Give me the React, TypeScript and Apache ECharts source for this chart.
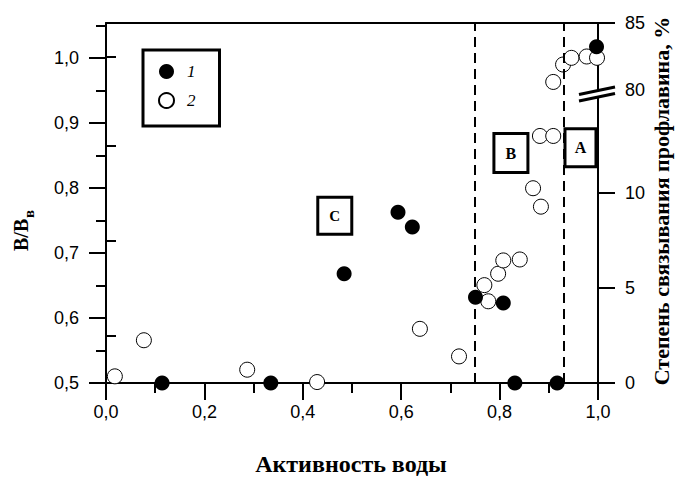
import React, { useEffect, useRef } from "react";
import * as echarts from "echarts";

// ---- data ----
const seriesNames = ["1", "2"];
// series 1 (filled): B/B_в, left axis
const filledX = [0.114, 0.335, 0.484, 0.5935, 0.6226, 0.751, 0.8075, 0.831, 0.917, 0.997];
const filledY = [0.5, 0.5, 0.668, 0.7626, 0.74, 0.632, 0.623, 0.5, 0.5, 1.0174];
// series 2 (open): binding degree, %, right axis (broken)
const openX = [0.018, 0.077, 0.287, 0.429, 0.638, 0.7175, 0.769, 0.777, 0.797, 0.8075, 0.841, 0.868, 0.884, 0.882, 0.909, 0.909, 0.929, 0.946, 0.977, 0.998];
const openPct = [0.35, 2.25, 0.7, 0.05, 2.85, 1.4, 5.15, 4.3, 5.75, 6.45, 6.5, 10.25, 9.28, 13.0, 13.0, 80.6, 81.9, 82.4, 82.5, 82.4];
// ticks
const xMajorInterval = 0.2;
const leftMajor = [0.5, 0.6, 0.7, 0.8, 0.9, 1.0];
const leftMinor = [0.55, 0.65, 0.75, 0.85, 0.95, 1.05];
const rightMajor = [0, 5, 10, 80, 85];
const rightMinor = [2.5, 7.5, 12.5, 82.5];
// region boundaries (dashed lines)
const boundaries = [0.751, 0.929];
const regionNames = ["C", "B", "A"];

// ---- broken right axis mapping ----
const BREAK_80 = 15.42;
const UPPER_SCALE = 0.705;
const disp = (v: number) => (v < 40 ? v : BREAK_80 + (v - 80) * UPPER_SCALE);
const undisp = (d: number) => (d < 14 ? d : 80 + (d - BREAK_80) / UPPER_SCALE);

const comma = (v: number) => v.toFixed(1).replace(".", ",");

export default function App() {
  const ref = useRef<HTMLDivElement>(null);
  useEffect(() => {
    if (!ref.current) return;
    const chart = echarts.init(ref.current, undefined, { renderer: "svg" });
    const black = "#000";
    const sans = "Liberation Sans";
    const serif = "Liberation Serif";
    const leftMax = 1.054;
    const rightMax = disp(85);

    const option: any = {
      animation: false,
      backgroundColor: "#fff",
      grid: { left: 106, right: 78, top: 23, bottom: 94, containLabel: false },
      legend: {
        data: seriesNames,
        orient: "vertical",
        left: 143,
        top: 50,
        itemWidth: 15,
        itemHeight: 15,
        itemGap: 12,
        padding: [13, 24, 17, 15],
        borderColor: black,
        borderWidth: 3,
        backgroundColor: "#fff",
        selectedMode: false,
        textStyle: { fontFamily: serif, fontStyle: "italic", fontSize: 17, color: black, padding: [0, 0, 0, 8] },
      },
      xAxis: [
        {
          type: "value",
          min: 0,
          max: 1,
          interval: xMajorInterval,
          position: "bottom",
          axisLine: { show: true, onZero: false, lineStyle: { color: black, width: 2 } },
          axisTick: { show: true, length: 17, lineStyle: { color: black, width: 2 } },
          minorTick: { show: true, splitNumber: 2, length: 10, lineStyle: { color: black, width: 2 } },
          splitLine: { show: false },
          minorSplitLine: { show: false },
          axisLabel: { formatter: (v: number) => comma(v), fontFamily: sans, fontSize: 18, color: black, margin: 20 },
        },
        {
          type: "value",
          min: 0,
          max: 1,
          position: "top",
          axisLine: { show: true, onZero: false, lineStyle: { color: black, width: 2 } },
          axisTick: { show: false },
          axisLabel: { show: false },
          splitLine: { show: false },
        },
      ],
      yAxis: [
        {
          type: "value",
          min: 0.5,
          max: leftMax,
          position: "left",
          axisLine: { show: true, onZero: false, lineStyle: { color: black, width: 2 } },
          axisTick: { show: true, customValues: leftMajor, length: 17, lineStyle: { color: black, width: 2 } },
          axisLabel: { customValues: leftMajor, formatter: (v: number) => comma(v), fontFamily: sans, fontSize: 18, color: black, margin: 27 },
          splitLine: { show: false },
        },
        {
          type: "value",
          min: 0.5,
          max: leftMax,
          position: "left",
          axisLine: { show: false },
          axisTick: { show: true, customValues: leftMinor, length: 10, lineStyle: { color: black, width: 2 } },
          axisLabel: { show: false },
          splitLine: { show: false },
        },
        {
          type: "value",
          min: 0,
          max: rightMax,
          position: "right",
          axisLine: { show: true, onZero: false, lineStyle: { color: black, width: 2 } },
          axisTick: { show: true, customValues: rightMajor.map(disp), length: 17, lineStyle: { color: black, width: 2 } },
          axisLabel: {
            customValues: rightMajor.map(disp),
            formatter: (v: number) => String(Math.round(undisp(v))),
            fontFamily: sans,
            fontSize: 18,
            color: black,
            margin: 27,
          },
          splitLine: { show: false },
        },
        {
          type: "value",
          min: 0,
          max: rightMax,
          position: "right",
          axisLine: { show: false },
          axisTick: { show: true, customValues: rightMinor.map(disp), length: 10, lineStyle: { color: black, width: 2 } },
          axisLabel: { show: false },
          splitLine: { show: false },
        },
      ],
      series: [
        {
          name: seriesNames[1],
          type: "scatter",
          xAxisIndex: 0,
          yAxisIndex: 2,
          symbol: "circle",
          symbolSize: 15,
          z: 3,
          itemStyle: { color: "#fff", borderColor: black, borderWidth: 1, opacity: 1 },
          data: openX.map((x, i) => [x, disp(openPct[i])]),
        },
        {
          name: seriesNames[0],
          type: "scatter",
          xAxisIndex: 0,
          yAxisIndex: 0,
          symbol: "circle",
          symbolSize: 15,
          z: 4,
          itemStyle: { color: black, opacity: 1 },
          data: filledX.map((x, i) => [x, filledY[i]]),
          markLine: {
            silent: true,
            symbol: ["none", "none"],
            label: { show: false },
            lineStyle: { color: black, width: 2, type: [10, 6] },
            data: boundaries.map((b) => ({ xAxis: b })),
          },
        },
      ],
    };
    chart.setOption(option);

    // annotations positioned through the axes
    const boxAnchors: [number, number][] = [
      [0.465, 0.7575],
      [0.823, 0.8538],
      [0.9644, 0.862],
    ];
    const boxSizes: [number, number][] = [
      [34, 37],
      [34, 39],
      [31, 38],
    ];
    const graphics: any[] = [];
    regionNames.forEach((name, i) => {
      const p = chart.convertToPixel({ xAxisIndex: 0, yAxisIndex: 0 }, boxAnchors[i]) as number[];
      const [w, h] = boxSizes[i];
      graphics.push({
        type: "rect",
        shape: { x: p[0] - w / 2, y: p[1] - h / 2, width: w, height: h },
        style: { fill: "#fff", stroke: black, lineWidth: 3 },
        z: 10,
      });
      graphics.push({
        type: "text",
        x: p[0],
        y: p[1],
        style: { text: name, font: `bold ${name === "C" ? 15 : 16}px "${serif}"`, fill: black, align: "center", verticalAlign: "middle" },
        z: 11,
      });
    });
    // axis break symbol on right axis
    const bp = chart.convertToPixel({ xAxisIndex: 0, yAxisIndex: 2 }, [1, 15.22]) as number[];
    const bx = bp[0];
    const by = bp[1];
    graphics.push({
      type: "polygon",
      shape: { points: [[bx - 19, by + 0.7], [bx + 17, by - 6.8], [bx + 17, by - 0.3], [bx - 19, by + 7.2]] },
      style: { fill: "#fff", stroke: "none" },
      z: 20,
    });
    graphics.push({ type: "line", shape: { x1: bx - 19, y1: by + 0.7, x2: bx + 17, y2: by - 6.8 }, style: { stroke: black, lineWidth: 3 }, z: 21 });
    graphics.push({ type: "line", shape: { x1: bx - 19, y1: by + 7.2, x2: bx + 17, y2: by - 0.3 }, style: { stroke: black, lineWidth: 3 }, z: 21 });
    // titles
    graphics.push({
      type: "text",
      x: 351,
      y: 464,
      style: { text: "Активность воды", font: `bold 24px "${serif}"`, fill: black, align: "center", verticalAlign: "middle" },
    });
    graphics.push({
      type: "text",
      x: 661,
      y: 201,
      rotation: Math.PI / 2,
      style: { text: "Степень связывания профлавина, %", font: `bold 22px "${serif}"`, fill: black, align: "center", verticalAlign: "middle" },
    });
    graphics.push({
      type: "group",
      x: 21,
      y: 222,
      rotation: Math.PI / 2,
      children: [
        { type: "text", x: -29, y: 0, style: { text: "B/B", font: `bold 20px "${serif}"`, fill: black, align: "left", verticalAlign: "middle" } },
        { type: "text", x: 4, y: 8, style: { text: "в", font: `bold 15px "${serif}"`, fill: black, align: "left", verticalAlign: "middle" } },
      ],
    });
    chart.setOption({ graphic: graphics });

    return () => chart.dispose();
  }, []);
  return <div ref={ref} style={{ width: 676, height: 477, position: "absolute", left: 0, top: 0, background: "#fff" }} />;
}
